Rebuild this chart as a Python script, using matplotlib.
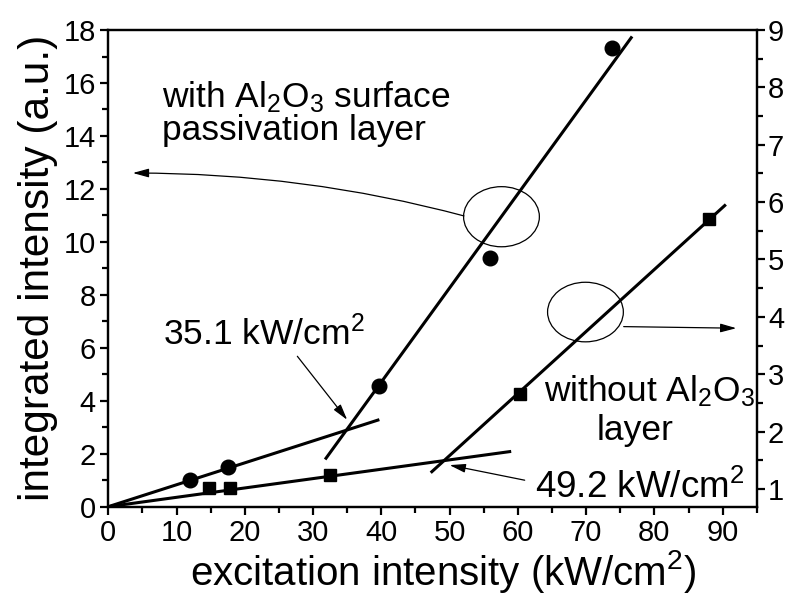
import matplotlib
matplotlib.use("Agg")
import matplotlib.pyplot as plt
from matplotlib.patches import Ellipse
from matplotlib.ticker import MultipleLocator

plt.rcParams["font.family"] = ["Liberation Sans", "DejaVu Sans"]
plt.rcParams["mathtext.default"] = "regular"

# with Al2O3 (circles, left axis)
circ_x = [12.0, 17.6, 39.7, 55.9, 73.8]
circ_y = [1.0, 1.5, 4.56, 9.38, 17.33]
fit1_x = [0.0, 39.5]
fit1_y = [0.0, 3.27]
fit2_x = [31.9, 76.6]
fit2_y = [1.83, 17.71]

# without Al2O3 (squares, right axis)
sq_x = [14.8, 17.8, 32.5, 60.3, 88.0]
sq_y = [1.01, 1.01, 1.24, 2.65, 5.71]
fit3_x = [0.0, 58.8]
fit3_y = [0.69, 1.65]
fit4_x = [47.4, 90.3]
fit4_y = [1.30, 5.94]

fig = plt.figure(figsize=(7.9, 5.98), dpi=100)
ax = fig.add_axes([0.137, 0.1527, 0.821, 0.7971])
ax2 = ax.twinx()

ax.plot(fit1_x, fit1_y, color="black", lw=2.2)
ax.plot(fit2_x, fit2_y, color="black", lw=2.2)
ax.plot(circ_x, circ_y, "o", color="black", ms=10.5)
ax2.plot(fit3_x, fit3_y, color="black", lw=2.2)
ax2.plot(fit4_x, fit4_y, color="black", lw=2.2)
ax2.plot(sq_x, sq_y, "s", color="black", ms=9)

ax.set_xlim(0, 95)
ax.set_ylim(0, 18)
ax2.set_ylim(0.69, 9)

ax.xaxis.set_major_locator(MultipleLocator(10))
ax.xaxis.set_minor_locator(MultipleLocator(5))
ax.yaxis.set_major_locator(MultipleLocator(2))
ax.yaxis.set_minor_locator(MultipleLocator(1))
ax2.yaxis.set_major_locator(MultipleLocator(1))
ax2.yaxis.set_minor_locator(MultipleLocator(0.5))

for a in (ax, ax2):
    for s in a.spines.values():
        s.set_linewidth(1.6)
    a.tick_params(which="major", direction="out", length=6, width=1.6,
                  labelsize=21, pad=3)
    a.tick_params(which="minor", direction="out", length=4, width=1.6)
ax.tick_params(axis="both", which="both", top=False, right=False)
ax2.tick_params(axis="y", which="both", left=False, right=True)
ax2.tick_params(axis="y", pad=2)

ax.set_xlabel("excitation intensity (kW/cm$^2$)", fontsize=29)
ax.xaxis.set_label_coords(0.517, -0.086, transform=ax.transAxes)
ax.xaxis.label.set_va("top")
ax.set_ylabel("integrated intensity (a.u.)", fontsize=30.5, labelpad=4)

# ellipses + arrows pointing to the axes
ax.add_patch(Ellipse((57.6, 10.95), 11.1, 2.27, fill=False, lw=0.9, color="black"))
ax.add_patch(Ellipse((69.9, 7.35), 11.1, 2.25, fill=False, lw=0.9, color="black"))

arrow = dict(arrowstyle="-|>,head_length=0.8,head_width=0.22", color="black",
             lw=0.9, mutation_scale=12, shrinkA=0, shrinkB=0)
ax.annotate("", xy=(3.6, 12.6), xytext=(52.1, 10.98),
            arrowprops=dict(arrow, connectionstyle="angle3,angleA=165,angleB=0"))
ax.annotate("", xy=(92.0, 6.74), xytext=(75.5, 6.8), arrowprops=arrow)
ax.annotate("", xy=(35.0, 3.28), xytext=(27.7, 5.68), arrowprops=arrow)
ax.annotate("", xy=(50.0, 1.57), xytext=(61.0, 1.0), arrowprops=arrow)

ax.text(7.9, 15.1, "with Al$_2$O$_3$ surface", fontsize=25.5, va="baseline")
ax.text(7.9, 13.85, "passivation layer", fontsize=25.5, va="baseline")
ax.text(8.0, 6.1, "35.1 kW/cm$^2$", fontsize=25.5, va="baseline")
ax.text(63.9, 3.97, "without Al$_2$O$_3$", fontsize=25.5, va="baseline")
ax.text(77.2, 2.52, "layer", fontsize=25.5, va="baseline", ha="center")
ax.text(62.5, 0.33, "49.2 kW/cm$^2$", fontsize=26.5, va="baseline")

fig.savefig("out.png", dpi=100)
